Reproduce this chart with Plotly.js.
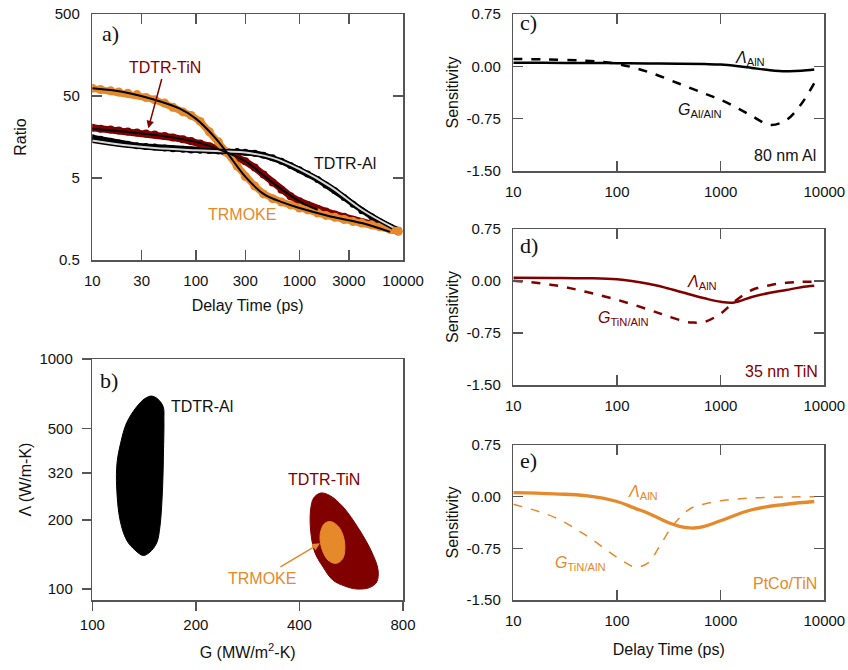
<!DOCTYPE html>
<html>
<head>
<meta charset="utf-8">
<script src="https://cdn.plot.ly/plotly-3.0.1.min.js"></script>
<style>html,body{margin:0;padding:0;background:#fff}#chart{width:848px;height:670px}</style>
</head>
<body>
<div id="chart"></div>
<script>
// ---------- Panel a: ratio vs delay time ----------
const tData = [10, 12, 15, 18, 22, 27, 33, 40, 50, 60, 75, 90, 110, 135, 165, 200, 250, 300, 370, 450, 550, 670, 820, 1000, 1200, 1500, 1800, 2200, 2700, 3300, 4000, 5000, 6000, 7500, 9000];
const alData = [15.5, 14.8, 14.0, 13.4, 12.9, 12.4, 12.1, 11.9, 11.6, 11.4, 11.2, 11.0, 10.9, 10.8, 10.7, 10.6, 10.5, 10.3, 10.0, 9.5, 8.8, 8.0, 7.1, 6.3, 5.6, 4.8, 4.1, 3.5, 2.9, 2.4, 2.0, 1.68, 1.45, 1.25, 1.15];
const tinData = [20.5, 20, 19.5, 19, 18.5, 18, 17.5, 17, 16.3, 15.6, 14.8, 14.1, 13.2, 12.2, 11.2, 10.2, 9.0, 8.0, 6.7, 5.5, 4.4, 3.6, 3.0, 2.6, 2.35, 2.1, 1.95, 1.8, 1.68, 1.55, 1.45, 1.35, 1.28, 1.2, 1.12];
const mokeData = [62, 60, 58, 56, 54, 52, 48, 45, 41, 36.5, 32, 29, 24.5, 18.3, 13.8, 10.2, 7.0, 5.2, 4.0, 3.2, 2.8, 2.55, 2.35, 2.15, 2.04, 1.87, 1.75, 1.66, 1.56, 1.47, 1.41, 1.34, 1.27, 1.18, 1.12];

const tFitA = [10, 20, 40, 100, 200, 300, 550, 1000, 2000, 4000, 8000];
const fitA  = [14.3, 12.6, 11.6, 10.9, 10.5, 10.2, 8.8, 6.4, 3.9, 2.05, 1.25];
const tFitT = [10, 30, 100, 200, 300, 550, 1000, 1500];
const fitT  = [20, 17.5, 13.8, 10.2, 8.0, 4.4, 2.6, 2.05];
const tFitM = [10, 20, 40, 70, 100, 150, 200, 300, 450, 700, 1000, 2000, 4000, 7500];
const fitM  = [62, 56, 45, 35, 26.5, 16, 10.2, 5.2, 3.2, 2.5, 2.15, 1.7, 1.41, 1.1];

const timeTicksA = [10, 30, 100, 300, 1000, 3000, 10000];
const ratioTicks = [0.5, 5, 50, 500];

// ---------- Panel b: confidence regions (G, Lambda) ----------
const alG   = [148.7, 155, 160.7, 161.5, 161, 160.1, 157.2, 153.8, 147.1, 140.6, 133, 125.8, 120.4, 117.7, 118, 120.9, 125.8, 134.6, 142.2];
const alLam = [690, 670, 620, 543, 390, 278, 186, 158.5, 144.8, 139.9, 147.8, 163.3, 199.5, 278, 353, 431, 527, 620, 673];
const tinG   = [461, 490, 535, 598, 649, 677, 671, 640, 587, 541.5, 500, 468, 443, 431, 431, 440];
const tinLam = [261.5, 255, 228, 180.5, 144.8, 121, 107.3, 101.5, 100, 103, 109.4, 125, 144.8, 180.5, 220.5, 248.8];
const mokeG   = [495, 524, 541.5, 535, 512, 484, 463, 460, 474];
const mokeLam = [196.2, 183.6, 158, 136, 129.3, 133.7, 152.8, 174.7, 193.1];
const gTicks = [100, 200, 400, 800];
const lamTicks = [100, 200, 320, 500, 1000];

// ---------- Panels c, d, e: sensitivity ----------
const tC = [10, 20, 50, 100, 200, 400, 700, 1000, 1500, 2000, 3000, 4300, 6000, 8000];
const lamC = [0.05, 0.05, 0.048, 0.045, 0.042, 0.038, 0.032, 0.025, 0.0, -0.023, -0.055, -0.07, -0.065, -0.047];
const gC   = [0.106, 0.10, 0.08, 0.035, -0.08, -0.25, -0.39, -0.48, -0.61, -0.71, -0.84, -0.77, -0.54, -0.24];
const tD = [10, 25, 50, 100, 200, 300, 470, 550, 700, 1000, 1350, 2000, 3000, 4300, 6000, 8000];
const lamD = [0.048, 0.045, 0.04, 0.024, -0.04, -0.10, -0.18, -0.21, -0.25, -0.30, -0.31, -0.23, -0.17, -0.13, -0.09, -0.07];
const gD   = [0.005, -0.06, -0.155, -0.27, -0.41, -0.50, -0.59, -0.60, -0.59, -0.47, -0.30, -0.13, -0.06, -0.025, -0.012, -0.01];
const tE    = [10, 25, 50, 100, 150, 200, 260, 330, 400, 470, 550, 680, 1000, 2000, 4300, 8000];
const lamE  = [0.058, 0.04, 0.015, -0.07, -0.17, -0.24, -0.32, -0.39, -0.43, -0.45, -0.455, -0.435, -0.35, -0.19, -0.11, -0.07];
const gE    = [-0.11, -0.30, -0.56, -0.88, -1.02, -0.96, -0.71, -0.46, -0.31, -0.21, -0.15, -0.11, -0.06, -0.02, -0.005, 0.0];
const timeTicksS = [10, 100, 1000, 10000];
const sensTicks = [-1.5, -0.75, 0, 0.75];
const sensTickText = ['-1.50', '-0.75', '0.00', '0.75'];

const MAROON = '#800000', ORANGE = '#E5892A', BLACK = '#000000';
const FONT = 'Liberation Sans, Arial, sans-serif';
const W = 848, H = 670;
const X = px => px / W, Y = py => 1 - py / H;

const traces = [
  // panel a data
  {x: tData, y: alData, xaxis: 'x', yaxis: 'y', mode: 'lines+markers', line: {color: BLACK, width: 6}, marker: {color: BLACK, size: 7}},
  {x: tData, y: tinData, xaxis: 'x', yaxis: 'y', mode: 'lines+markers', line: {color: MAROON, width: 7}, marker: {color: MAROON, size: 8}},
  {x: tData, y: mokeData, xaxis: 'x', yaxis: 'y', mode: 'lines+markers', line: {color: ORANGE, width: 7}, marker: {color: ORANGE, size: 9}},
  // fits
  {x: tFitA, y: fitA, xaxis: 'x', yaxis: 'y', mode: 'lines', line: {color: BLACK, width: 5, shape: 'spline'}},
  {x: tFitA, y: fitA, xaxis: 'x', yaxis: 'y', mode: 'lines', line: {color: '#d8d8d8', width: 2, shape: 'spline'}},
  {x: tFitT, y: fitT, xaxis: 'x', yaxis: 'y', mode: 'lines', line: {color: BLACK, width: 2, shape: 'spline'}},
  {x: tFitM, y: fitM, xaxis: 'x', yaxis: 'y', mode: 'lines', line: {color: BLACK, width: 2, shape: 'spline'}},
  // panel b regions
  {x: alG.concat([alG[0]]), y: alLam.concat([alLam[0]]), xaxis: 'x2', yaxis: 'y2', mode: 'lines', fill: 'toself', fillcolor: BLACK, line: {color: BLACK, width: 1, shape: 'spline'}},
  {x: tinG.concat([tinG[0]]), y: tinLam.concat([tinLam[0]]), xaxis: 'x2', yaxis: 'y2', mode: 'lines', fill: 'toself', fillcolor: MAROON, line: {color: MAROON, width: 1, shape: 'spline'}},
  {x: mokeG.concat([mokeG[0]]), y: mokeLam.concat([mokeLam[0]]), xaxis: 'x2', yaxis: 'y2', mode: 'lines', fill: 'toself', fillcolor: ORANGE, line: {color: ORANGE, width: 1, shape: 'spline'}},
  // panel c
  {x: tC, y: lamC, xaxis: 'x3', yaxis: 'y3', mode: 'lines', line: {color: BLACK, width: 2.5, shape: 'spline'}},
  {x: tC, y: gC, xaxis: 'x3', yaxis: 'y3', mode: 'lines', line: {color: BLACK, width: 2.5, dash: 'dash', shape: 'spline'}},
  // panel d
  {x: tD, y: lamD, xaxis: 'x4', yaxis: 'y4', mode: 'lines', line: {color: MAROON, width: 2.5, shape: 'spline'}},
  {x: tD, y: gD, xaxis: 'x4', yaxis: 'y4', mode: 'lines', line: {color: MAROON, width: 2.5, dash: 'dash', shape: 'spline'}},
  // panel e
  {x: tE, y: lamE, xaxis: 'x5', yaxis: 'y5', mode: 'lines', line: {color: ORANGE, width: 3.3, shape: 'spline', smoothing: 1.2}},
  {x: tE, y: gE, xaxis: 'x5', yaxis: 'y5', mode: 'lines', line: {color: ORANGE, width: 1.5, dash: 'dash', shape: 'spline'}}
];

const tickFont = {family: FONT, size: 15, color: '#111'};
const titleFont = {family: FONT, size: 16, color: '#111'};
const frame = {showline: true, linecolor: '#555', linewidth: 1.5, mirror: true, showgrid: false, zeroline: false, tickcolor: '#555', tickwidth: 1.5, tickfont: tickFont};

function logX(domain, anchor, ticks, title, standoff) {
  const ax = Object.assign({}, frame, {type: 'log', anchor: anchor, domain: domain, range: [1, 4], tickmode: 'array', tickvals: ticks, ticktext: ticks.map(String), ticks: 'inside', ticklen: 10, mirror: 'ticks', ticklabelstandoff: 6});
  if (title) ax.title = {text: title, font: titleFont, standoff: standoff};
  return ax;
}
function sensY(domain, anchor) {
  return Object.assign({}, frame, {anchor: anchor, domain: domain, range: [-1.5, 0.75], tickmode: 'array', tickvals: sensTicks, ticktext: sensTickText, ticks: 'inside', ticklen: 10, mirror: 'ticks', ticklabelstandoff: 8, title: {text: 'Sensitivity', font: titleFont, standoff: 4}});
}

const ann = (px, py, text, color, size, extra) => Object.assign({xref: 'paper', yref: 'paper', x: X(px), y: Y(py), text: text, showarrow: false, font: {family: FONT, size: size || 16, color: color}, xanchor: 'center', yanchor: 'middle'}, extra || {});
const letter = (px, py, t) => ann(px, py, t, '#111', 22, {font: {family: 'Liberation Serif, Times New Roman, serif', size: 22, color: '#111'}});
// label with an arrow: text centred at (tx, ty), arrow head at (hx, hy)
const arrowLabel = (tx, ty, hx, hy, text, color) => ({xref: 'paper', yref: 'paper', x: X(hx), y: Y(hy), ax: tx - hx, ay: ty - hy, text: text, showarrow: true, arrowhead: 2, arrowsize: 1, arrowwidth: 1.5, arrowcolor: color, standoff: 0, startstandoff: 2, font: {family: FONT, size: 16, color: color}});

const lam = '<i>Λ</i><sub>AlN</sub>';

const layout = {
  width: W, height: H, margin: {l: 0, r: 0, t: 0, b: 0},
  paper_bgcolor: '#fff', plot_bgcolor: '#fff', showlegend: false,
  xaxis: logX([X(92.3), X(403)], 'y', timeTicksA, 'Delay Time (ps)', 12),
  yaxis: Object.assign({}, frame, {type: 'log', anchor: 'x', domain: [Y(260), Y(14)], range: [Math.log10(0.5), Math.log10(500)], tickmode: 'array', tickvals: ratioTicks, ticktext: ratioTicks.map(String), ticks: 'inside', ticklen: 10, mirror: 'ticks', ticklabelstandoff: 8, title: {text: 'Ratio', font: titleFont, standoff: 24}}),
  xaxis2: Object.assign({}, frame, {type: 'log', anchor: 'y2', domain: [X(92.3), X(403)], range: [2, Math.log10(800)], tickmode: 'array', tickvals: gTicks, ticktext: gTicks.map(String), ticks: 'outside', ticklen: 9, ticklabelstandoff: 1, title: {text: 'G (MW/m<sup>2</sup>-K)', font: titleFont, standoff: 15}}),
  yaxis2: Object.assign({}, frame, {type: 'log', anchor: 'x2', domain: [Y(600), Y(359)], range: [Math.log10(89.6), 3], tickmode: 'array', tickvals: lamTicks, ticktext: lamTicks.map(String), ticks: 'outside', ticklen: 9, ticklabelstandoff: 6, title: {text: 'Λ (W/m-K)', font: titleFont, standoff: 4}}),
  xaxis3: logX([X(513.3), X(824.3)], 'y3', timeTicksS, null),
  yaxis3: sensY([Y(171), Y(14)], 'x3'),
  xaxis4: logX([X(513.3), X(824.3)], 'y4', timeTicksS, null),
  yaxis4: sensY([Y(385), Y(229)], 'x4'),
  xaxis5: logX([X(513.3), X(824.3)], 'y5', timeTicksS, 'Delay Time (ps)', 16),
  yaxis5: sensY([Y(600), Y(445)], 'x5'),
  annotations: [
    letter(110, 33, 'a)'), letter(109, 380, 'b)'), letter(528, 22, 'c)'), letter(529, 245, 'd)'), letter(528, 460, 'e)'),
    // panel a
    arrowLabel(165, 67, 148.3, 128.3, 'TDTR-TiN', MAROON),
    ann(345, 163, 'TDTR-Al', '#111'),
    ann(242, 215, 'TRMOKE', ORANGE),
    // panel b
    ann(202, 406, 'TDTR-Al', '#111'),
    ann(324, 479, 'TDTR-TiN', MAROON),
    arrowLabel(262, 578, 320, 543.3, 'TRMOKE', ORANGE),
    // panel c
    ann(750, 58, lam, '#111'),
    ann(700, 110, '<i>G</i><sub>Al/AlN</sub>', '#111'),
    ann(785, 155, '80 nm Al', '#111'),
    // panel d
    ann(702, 282, lam, MAROON),
    ann(623, 318, '<i>G</i><sub>TiN/AlN</sub>', MAROON),
    ann(781, 371, '35 nm TiN', MAROON),
    // panel e
    ann(643, 492, lam, ORANGE),
    ann(580, 563, '<i>G</i><sub>TiN/AlN</sub>', ORANGE),
    ann(785, 583, 'PtCo/TiN', ORANGE)
  ]
};

Plotly.newPlot('chart', traces, layout, {staticPlot: true, displayModeBar: false});
</script>
</body>
</html>
